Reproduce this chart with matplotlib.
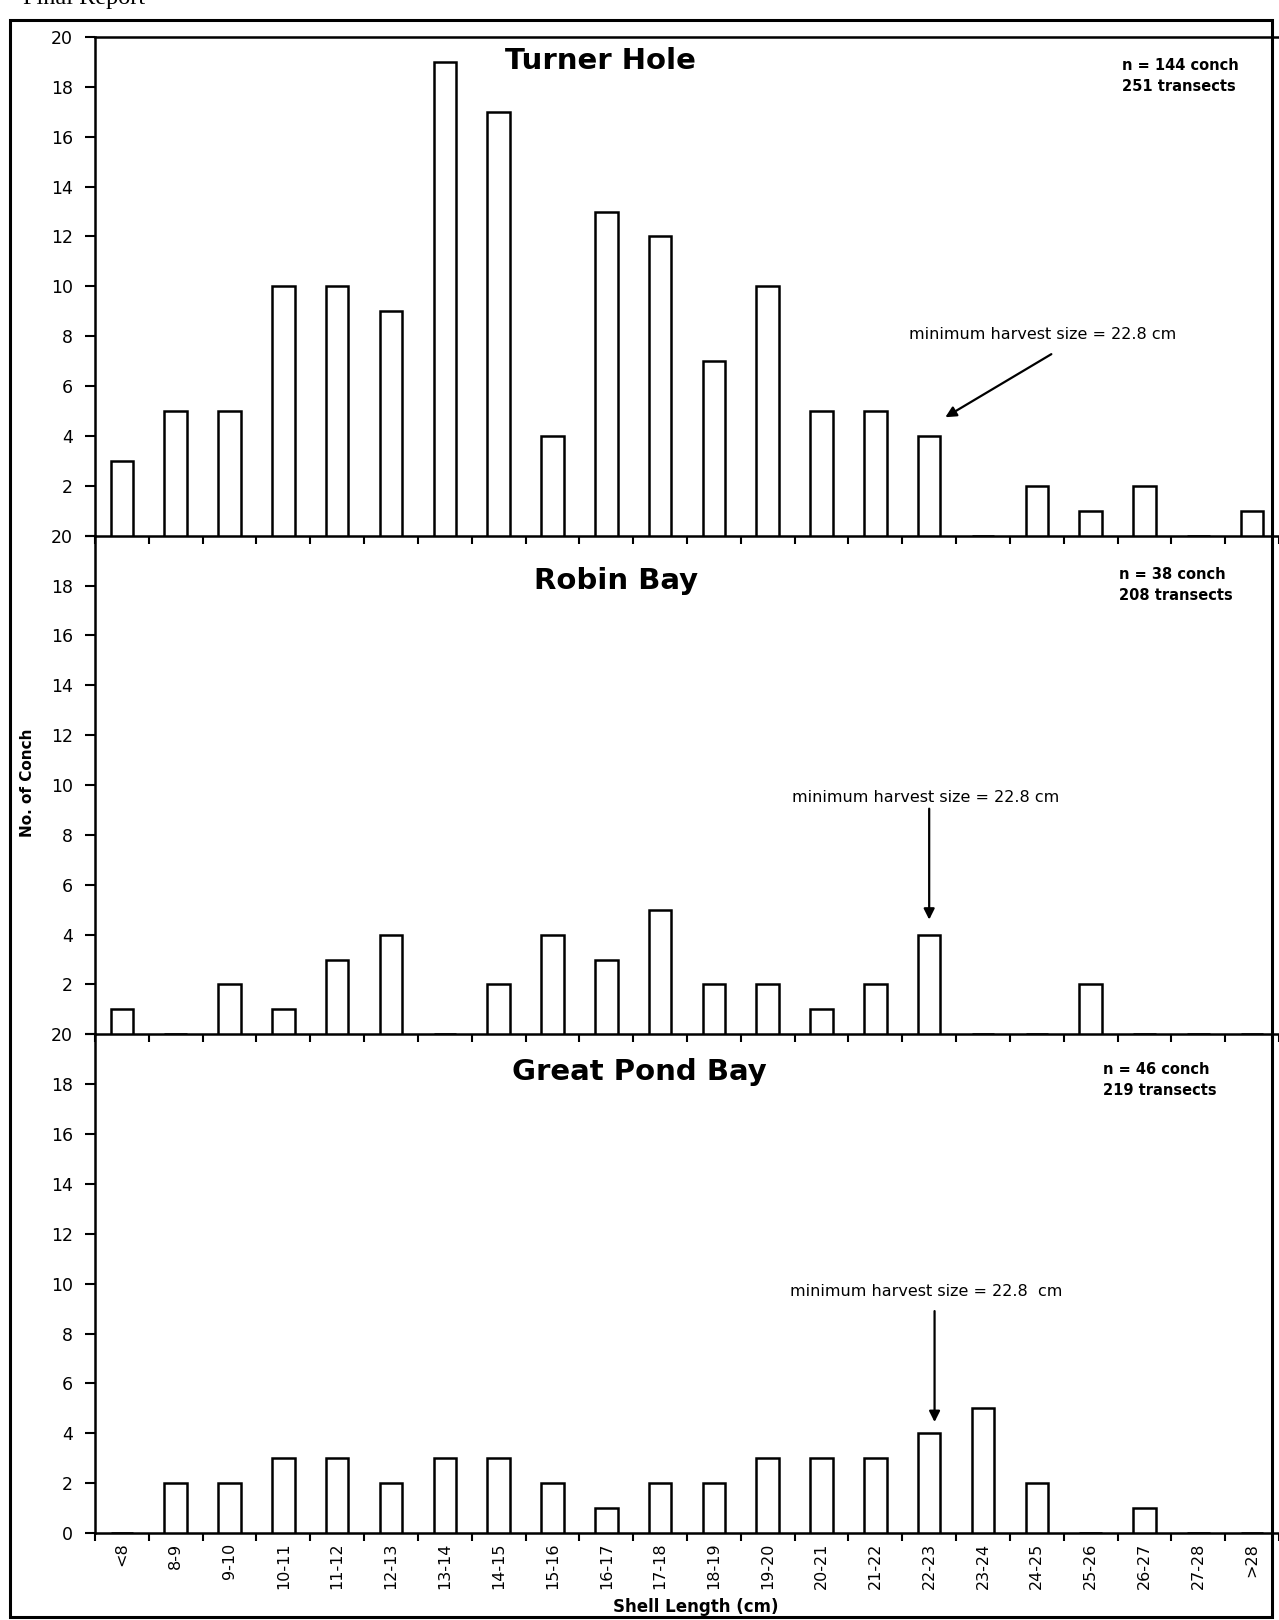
import numpy as np
import matplotlib
matplotlib.use("Agg")
import matplotlib.pyplot as plt
from matplotlib.patches import Rectangle

# Shell length classes (cm)
categories = ["<8", "8-9", "9-10", "10-11", "11-12", "12-13", "13-14", "14-15",
              "15-16", "16-17", "17-18", "18-19", "19-20", "20-21", "21-22",
              "22-23", "23-24", "24-25", "25-26", "26-27", "27-28", ">28"]

# Number of conch per size class at each site
turner_hole = [3, 5, 5, 10, 10, 9, 19, 17, 4, 13, 12, 7, 10, 5, 5, 4, 0, 2, 1, 2, 0, 1]
robin_bay = [1, 0, 2, 1, 3, 4, 0, 2, 4, 3, 5, 2, 2, 1, 2, 4, 0, 0, 2, 0, 0, 0]
great_pond_bay = [0, 2, 2, 3, 3, 2, 3, 3, 2, 1, 2, 2, 3, 3, 3, 4, 5, 2, 0, 1, 0, 0]

sites = ["Turner Hole", "Robin Bay", "Great Pond Bay"]
n_conch = [144, 38, 46]
n_transects = [251, 208, 219]
min_harvest_cm = 22.8
harvest_labels = ["minimum harvest size = 22.8 cm",
                  "minimum harvest size = 22.8 cm",
                  "minimum harvest size = 22.8  cm"]

y_ticks = list(range(0, 21, 2))

W, H = 1279, 1620
fig = plt.figure(figsize=(W / 100, H / 100), dpi=100)
fig.patch.set_facecolor("white")


def fx(x):
    return x / W


def fy(y):
    return 1 - y / H


ax_left, ax_right = 95, 1279
ax_top, ax_bottom = 37, 1533
panel_h = (ax_bottom - ax_top) / 3

series = [turner_hole, robin_bay, great_pond_bay]
x = np.arange(len(categories))

# index of the 22-23 class, where the harvest size falls
harvest_idx = categories.index("22-23")
harvest_x = harvest_idx - 0.5 + (min_harvest_cm - 22)

# title / count label / arrow placements for each panel
title_pos = [(600, 61), (616, 581), (639, 1072)]
count_pos = [(1122, 76), (1119, 585), (1103, 1080)]
arrow_specs = [
    dict(head=(harvest_x, 4.75), tail=(17.27, 7.28), text=(17.1, 8.05)),
    dict(head=(harvest_x - 0.3, 4.6), tail=(harvest_x - 0.3, 9.05), text=(14.93, 9.5)),
    dict(head=(harvest_x - 0.2, 4.45), tail=(harvest_x - 0.2, 8.9), text=(14.95, 9.7)),
]

for i, values in enumerate(series):
    top = ax_top + i * panel_h
    ax = fig.add_axes([fx(ax_left), fy(top + panel_h),
                       (ax_right - ax_left) / W, panel_h / H])
    ax.patch.set_visible(False)
    ax.bar(x, values, width=0.42, color="white", edgecolor="black",
           linewidth=1.8, zorder=3)
    ax.set_xlim(-0.5, len(categories) - 0.5)
    ax.set_ylim(0, 20)

    ax.spines["right"].set_visible(False)
    ax.spines["top"].set_visible(i == 0)
    for side in ["left", "bottom", "top"]:
        ax.spines[side].set_linewidth(1.8)

    # tick marks on class boundaries, labels at class centres
    ax.set_xticks(np.arange(-0.5, len(categories), 1))
    ax.set_xticklabels([])
    ax.tick_params(axis="x", which="major", direction="out", length=6,
                   width=1.5)
    ax.set_xticks(x, minor=True)
    if i == 2:
        ax.set_xticklabels(categories, minor=True, rotation=90,
                           fontsize=11.5)
    else:
        ax.set_xticklabels([], minor=True)
    ax.tick_params(axis="x", which="minor", length=0, pad=7)

    ax.set_yticks(y_ticks)
    ylabels = [str(t) for t in y_ticks]
    if i < 2:
        ylabels[0] = ""
    ax.set_yticklabels(ylabels, fontsize=12.5)
    ax.tick_params(axis="y", direction="out", length=7, width=1.5, pad=9)

    # site title and sample sizes
    tx, ty = title_pos[i]
    fig.text(fx(tx), fy(ty), sites[i], fontsize=21, fontweight="bold",
             ha="center", va="center")
    cx, cy = count_pos[i]
    fig.text(fx(cx), fy(cy),
             f"n = {n_conch[i]} conch\n{n_transects[i]} transects",
             fontsize=10.5, fontweight="bold", ha="left", va="center",
             linespacing=1.45)

    # minimum harvest size marker
    spec = arrow_specs[i]
    ax.annotate("", xy=spec["head"], xytext=spec["tail"],
                arrowprops=dict(arrowstyle="-|>", color="black", lw=1.6,
                                mutation_scale=16, shrinkA=0, shrinkB=0),
                zorder=4)
    ax.text(spec["text"][0], spec["text"][1], harvest_labels[i],
            fontsize=11.5, ha="center", va="center", zorder=4)

fig.text(fx(28), fy(783), "No. of Conch", rotation=90, fontsize=11,
         fontweight="bold", ha="center", va="center")
fig.text(fx(696), fy(1607), "Shell Length (cm)", fontsize=12,
         fontweight="bold", ha="center", va="center")

# page header and surrounding border
fig.text(fx(23), fy(4), "Final Report", family="Liberation Serif",
         fontsize=17.5, ha="left", va="baseline")
fig.patches.append(Rectangle((fx(10), fy(1617)), fx(1272) - fx(10),
                             fy(20) - fy(1617), transform=fig.transFigure,
                             fill=False, edgecolor="black", linewidth=2.2))

fig.savefig("out.png", dpi=100)
